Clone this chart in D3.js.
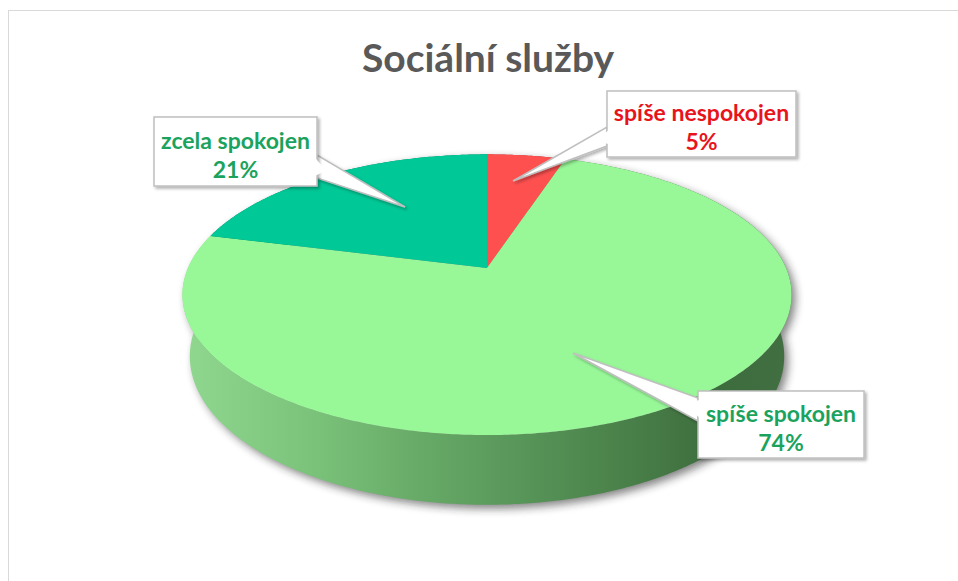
<!DOCTYPE html>
<html>
<head>
<meta charset="utf-8">
<script src="https://cdn.jsdelivr.net/npm/d3@7"></script>
<style>
  body { margin: 0; background: #fff; }
  svg { display: block; font-family: Lato, "Open Sans", sans-serif; }
</style>
</head>
<body>
<div id="chart"></div>
<script>
// Chart data
const title = "Sociální služby";
const categories = ["spíše nespokojen", "spíše spokojen", "zcela spokojen"];
const values = [5, 74, 21];
const percentLabels = ["5%", "74%", "21%"];
const sliceColors = ["#FF5050", "#98F898", "#00C896"];
const labelColors = ["#E8141C", "#1BA35E", "#1BA35E"];

// Callout layout (box x, y, w, h and pointer tip), same order as categories
const callouts = [
    { box: [607, 91, 189, 66], tip: [513, 181], base: [127, 146], side: "left" },
    { box: [698, 391, 166, 67], tip: [573, 353], base: [398, 421], side: "left" },
    { box: [154, 117, 163, 69], tip: [405, 207], base: [155, 178], side: "right" }
];

const width = 958, height = 581;

// 3D pie geometry (perspective view of a tilted disc)
const cx = 487, cy = 268, rx = 299, ry = 292;
const phi = 27.6 * Math.PI / 180;   // tilt
const dist = 4.66;                   // camera distance in radii
const depth = 0.24;                  // cylinder height in radii

function project(theta, r, h) {
    const X = r * Math.sin(theta), Z = -r * Math.cos(theta), Y = -h;
    const sy = Z * Math.sin(phi) - Y * Math.cos(phi);
    const dz = Z * Math.cos(phi) + Y * Math.sin(phi);
    const s = dist / (dist - dz);
    return [cx + rx * X * s, cy + ry * sy * s];
}

function rim(a0, a1, h) {
    const n = Math.max(2, Math.ceil(Math.abs(a1 - a0) / 0.01));
    return d3.range(n + 1).map(i => project(a0 + (a1 - a0) * i / n, 1, h));
}

const svg = d3.select("#chart")
    .append("svg")
    .attr("width", width)
    .attr("height", height);

const defs = svg.append("defs");

// Side gradient (light on the left, dark on the right)
const grad = defs.append("linearGradient")
    .attr("id", "sideGrad")
    .attr("gradientUnits", "userSpaceOnUse")
    .attr("x1", 183).attr("y1", 0).attr("x2", 792).attr("y2", 0);
[[0, "#90d890"], [0.2, "#7cc47c"], [0.38, "#68ab68"], [0.55, "#589659"],
 [0.72, "#4a814a"], [0.88, "#3d6c3d"], [1, "#416f42"]].forEach(s => {
    grad.append("stop").attr("offset", s[0]).attr("stop-color", s[1]);
});

const blur = defs.append("filter").attr("id", "pieShadow")
    .attr("x", "-10%").attr("y", "-10%").attr("width", "120%").attr("height", "130%");
blur.append("feGaussianBlur").attr("stdDeviation", 4);

const boxShadow = defs.append("filter").attr("id", "boxShadow")
    .attr("x", "-10%").attr("y", "-10%").attr("width", "130%").attr("height", "140%");
boxShadow.append("feDropShadow")
    .attr("dx", 2).attr("dy", 2).attr("stdDeviation", 1.5)
    .attr("flood-color", "#000").attr("flood-opacity", 0.3);

// Chart area frame
svg.append("rect")
    .attr("x", 8.5).attr("y", 10.5)
    .attr("width", 1000).attr("height", 700)
    .attr("fill", "none")
    .attr("stroke", "#d9d9d9");

// Title
svg.append("text")
    .attr("x", 488)
    .attr("y", 72)
    .attr("text-anchor", "middle")
    .attr("font-size", 39)
    .attr("font-weight", 700)
    .attr("fill", "#595959")
    .text(title);

const line = d3.line().curve(d3.curveLinearClosed);
const arcs = d3.pie().sort(null).value(d => d)(values);

// Shadow under the cylinder
const shadow = svg.append("g")
    .attr("transform", "translate(4,4)")
    .attr("filter", "url(#pieShadow)")
    .attr("opacity", 0.55);
shadow.append("path")
    .attr("d", line(rim(0, 2 * Math.PI, depth)))
    .attr("fill", "#222");
shadow.append("path")
    .attr("d", line(rim(0, 2 * Math.PI, 0)))
    .attr("fill", "#222");

// Sides
svg.append("g").selectAll("path")
    .data(arcs)
    .join("path")
    .attr("d", d => line(rim(d.startAngle, d.endAngle, 0)
        .concat(rim(d.endAngle, d.startAngle, depth))))
    .attr("fill", (d, i) => i === 1 ? "url(#sideGrad)" : d3.color(sliceColors[i]).darker(1.2));

// Top faces
svg.append("g").selectAll("path")
    .data(arcs)
    .join("path")
    .attr("d", d => line([[cx, cy]].concat(rim(d.startAngle, d.endAngle, 0))))
    .attr("fill", (d, i) => sliceColors[i]);

// Callouts
const labels = svg.append("g").selectAll("g")
    .data(arcs)
    .join("g");

labels.append("path")
    .attr("d", (d, i) => {
        const c = callouts[i];
        const bx = c.side === "left" ? c.box[0] : c.box[0] + c.box[2];
        return line([c.tip, [bx, c.base[0]], [bx, c.base[1]]]);
    })
    .attr("fill", "#fff")
    .attr("stroke", "#bfbfbf")
    .attr("stroke-width", 1.5)
    .attr("filter", "url(#boxShadow)");

labels.append("rect")
    .attr("x", (d, i) => callouts[i].box[0])
    .attr("y", (d, i) => callouts[i].box[1])
    .attr("width", (d, i) => callouts[i].box[2])
    .attr("height", (d, i) => callouts[i].box[3])
    .attr("fill", "#fff")
    .attr("stroke", "#bfbfbf")
    .attr("stroke-width", 1.5)
    .attr("filter", "url(#boxShadow)");

// cover the box edge where the pointer joins
labels.append("path")
    .attr("d", (d, i) => {
        const c = callouts[i];
        const bx = c.side === "left" ? c.box[0] : c.box[0] + c.box[2];
        const dx = c.side === "left" ? 3 : -3;
        return line([[c.tip[0] + (bx - c.tip[0]) * 0.9, c.tip[1] + ((c.base[0] + c.base[1]) / 2 - c.tip[1]) * 0.9],
            [bx + dx, c.base[0] + 1.5], [bx + dx, c.base[1] - 1.5]]);
    })
    .attr("fill", "#fff");

labels.append("text")
    .attr("x", (d, i) => callouts[i].box[0] + callouts[i].box[2] / 2)
    .attr("y", (d, i) => callouts[i].box[1] + callouts[i].box[3] / 2 - 12)
    .attr("dominant-baseline", "central")
    .attr("text-anchor", "middle")
    .attr("font-size", 23)
    .attr("font-weight", 700)
    .attr("fill", (d, i) => labelColors[i])
    .text((d, i) => categories[i]);

labels.append("text")
    .attr("x", (d, i) => callouts[i].box[0] + callouts[i].box[2] / 2)
    .attr("y", (d, i) => callouts[i].box[1] + callouts[i].box[3] / 2 + 17)
    .attr("dominant-baseline", "central")
    .attr("text-anchor", "middle")
    .attr("font-size", 23)
    .attr("font-weight", 700)
    .attr("fill", (d, i) => labelColors[i])
    .text((d, i) => percentLabels[i]);
</script>
</body>
</html>
